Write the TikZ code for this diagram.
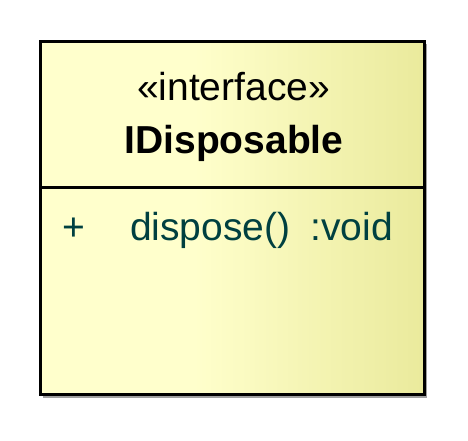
\documentclass[tikz,border=0pt]{standalone}
\usepackage{fontspec}
\setmainfont{Liberation Sans}
\usetikzlibrary{positioning}
\definecolor{cfillL}{HTML}{FFFFCC}
\definecolor{cfillR}{HTML}{EAEA9C}
\definecolor{cteal}{HTML}{004040}
\definecolor{cshadow}{HTML}{A0A0A0}
\pgfdeclarehorizontalshading{umlfill}{100bp}{color(0bp)=(cfillL); color(25bp)=(cfillL); color(45bp)=(cfillL); color(75bp)=(cfillR); color(100bp)=(cfillR)}
\tikzset{
  every picture/.style={x=1pt, y=-1pt, line width=3pt},
  classbox/.style={draw=black, shading=umlfill, minimum width=383.5pt, minimum height=353.7pt, inner sep=0pt},
  stereo/.style={font=\fontsize{39}{47}\selectfont, anchor=base, inner sep=0pt},
  cname/.style={font=\fontsize{39}{47}\selectfont\bfseries, anchor=base, inner sep=0pt},
  member/.style={font=\fontsize{39}{47}\selectfont, text=cteal, anchor=base west, inner sep=0pt},
}

\begin{document}
\begin{tikzpicture}
  \useasboundingbox (0,0) rectangle (468,440);
  % shadow and box
  \fill[cshadow] (43,44) rectangle (426.5,397.5);
  \node[classbox] (iface) at (232.25,217.85) {};
  \coordinate (divL) at (40.5,187);
  \coordinate (divR) at (424,187);
  \draw (divL) -- (divR);
  % header
  \node[stereo] (stereo) at (233.5,100) {«interface»};
  \node[cname] (name) at (234,153) {IDisposable};
  % operations
  \node[member] (vis) at (60.5,240) {+};
  \node[member] (op) at (128.5,240) {dispose()};
  \node[member] (ret) at (309,240) {:void};
\end{tikzpicture}
\end{document}
